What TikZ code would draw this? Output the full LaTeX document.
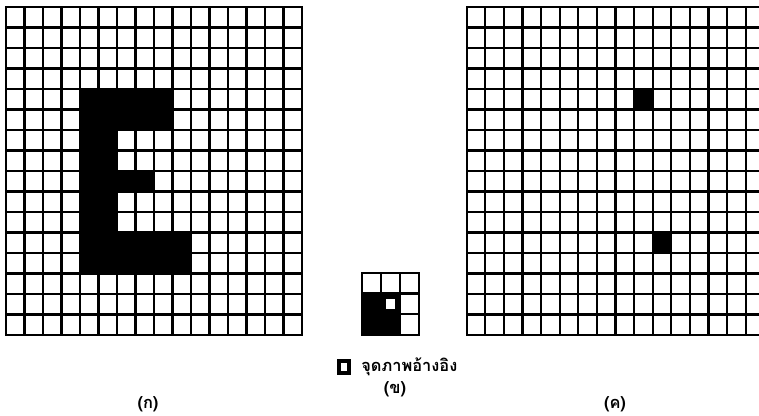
\documentclass[tikz,border=0pt]{standalone}
\usepackage{fontspec}
\newfontfamily\thaifont[Script=Thai]{Loma}
\usetikzlibrary{positioning}
\tikzset{
    gridline/.style={line width=2pt, line cap=rect},
    pixel/.style={fill=black},
    refmark/.style={rectangle, draw=black, fill=white, line width=3.5pt, minimum width=0.3cm, minimum height=0.34cm, inner sep=0pt},
    caption/.style={font=\thaifont\bfseries\fontsize{14}{16}\selectfont, inner sep=0pt}
}
\newcommand{\pixgrid}[2]{%
    \foreach \i in {0,...,#1} \draw[gridline] (\i,0) -- (\i,#2);
    \foreach \j in {0,...,#2} \draw[gridline] (0,\j) -- (#1,\j);
}

\begin{document}
\begin{tikzpicture}[x=0.03cm, y=-0.03cm]

\useasboundingbox (0,0) rectangle (759,415);

% (a) letter E
\begin{scope}[shift={(6,7)}, x=0.555cm, y=-0.615cm]
    \foreach \r/\a/\b in {4/4/8, 5/4/8, 6/4/5, 7/4/5, 8/4/7, 9/4/5, 10/4/5, 11/4/9, 12/4/9}
        \fill[pixel] (\a,\r) rectangle (\b+1,\r+1);
    \pixgrid{16}{16}
\end{scope}

% (b) 3x3 window
\begin{scope}[shift={(361.7,273)}, x=0.576cm, y=-0.617cm]
    \fill[pixel] (0,1) rectangle (2,3);
    \pixgrid{3}{3}
    \fill[white] (1.5,1.5) ++(-0.26,-0.26) rectangle ++(0.52,0.52);
\end{scope}

% (c) result
\begin{scope}[shift={(466.7,7)}, x=0.558cm, y=-0.615cm]
    \foreach \c/\r in {9/4, 10/11}
        \fill[pixel] (\c,\r) rectangle (\c+1,\r+1);
    \pixgrid{16}{16}
\end{scope}

\node[refmark] (refbox) at (344,367) {};
\node[caption, anchor=west, right=0.3cm of refbox] (reftext) {จุดภาพอ้างอิง};

\node[caption] (lblA) at (148,404) {(ก)};
\node[caption] (lblB) at (395,389) {(ข)};
\node[caption] (lblC) at (615,404) {(ค)};

\end{tikzpicture}
\end{document}
